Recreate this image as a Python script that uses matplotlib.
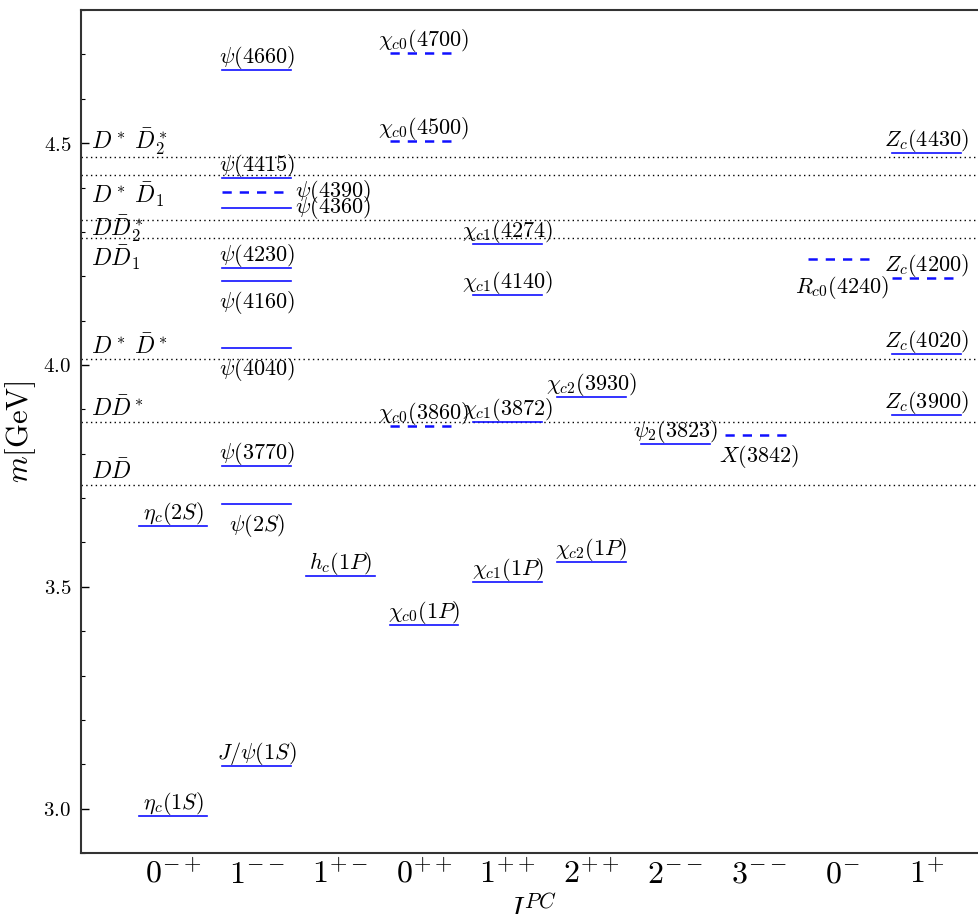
import matplotlib
matplotlib.use("Agg")
import matplotlib.pyplot as plt
from matplotlib.ticker import MultipleLocator

plt.rcParams['mathtext.fontset'] = 'cm'
plt.rcParams['font.family'] = 'serif'
plt.rcParams['font.serif'] = ['DejaVu Serif']

# J^PC columns
jpc = [r"$0^{-+}$", r"$1^{--}$", r"$1^{+-}$", r"$0^{++}$", r"$1^{++}$",
       r"$2^{++}$", r"$2^{--}$", r"$3^{--}$", r"$0^{-}$", r"$1^{+}$"]

# charmonium(-like) states: name, column, mass [GeV], predicted (dashed)
names = [r"$\eta_c(1S)$", r"$\eta_c(2S)$",
         r"$J/\psi(1S)$", r"$\psi(2S)$", r"$\psi(3770)$", r"$\psi(4040)$",
         r"$\psi(4160)$", r"$\psi(4230)$", r"$\psi(4360)$", r"$\psi(4390)$",
         r"$\psi(4415)$", r"$\psi(4660)$",
         r"$h_c(1P)$",
         r"$\chi_{c0}(1P)$", r"$\chi_{c0}(3860)$", r"$\chi_{c0}(4500)$", r"$\chi_{c0}(4700)$",
         r"$\chi_{c1}(1P)$", r"$\chi_{c1}(3872)$", r"$\chi_{c1}(4140)$", r"$\chi_{c1}(4274)$",
         r"$\chi_{c2}(1P)$", r"$\chi_{c2}(3930)$",
         r"$\psi_2(3823)$",
         r"$X(3842)$",
         r"$R_{c0}(4240)$",
         r"$Z_c(3900)$", r"$Z_c(4020)$", r"$Z_c(4200)$", r"$Z_c(4430)$"]
column = [0, 0,
          1, 1, 1, 1, 1, 1, 1, 1, 1, 1,
          2,
          3, 3, 3, 3,
          4, 4, 4, 4,
          5, 5,
          6,
          7,
          8,
          9, 9, 9, 9]
mass = [2.984, 3.638,
        3.097, 3.686, 3.773, 4.039, 4.190, 4.219, 4.354, 4.390, 4.421, 4.664,
        3.525,
        3.415, 3.862, 4.505, 4.703,
        3.511, 3.872, 4.158, 4.273,
        3.557, 3.927,
        3.823,
        3.842,
        4.239,
        3.888, 4.025, 4.196, 4.478]
predicted = [False, False,
             False, False, False, False, False, False, False, True, False, False,
             False,
             False, True, True, True,
             False, False, False, False,
             False, False,
             False,
             True,
             True,
             False, False, True, False]
label_side = ["above", "above",
              "above", "below", "above", "below", "below", "above", "right", "right",
              "above", "above",
              "above",
              "above", "above", "above", "above",
              "above", "above", "above", "above",
              "above", "above",
              "above",
              "below",
              "below_far",
              "above", "above", "above", "above"]

# open-charm thresholds
thr_names = [r"$D\bar{D}$", r"$D\bar{D}^*$", r"$D^*\;\bar{D}^*$", r"$D\bar{D}_1$",
             r"$D\bar{D}_2^*$", r"$D^*\;\bar{D}_1$", r"$D^*\;\bar{D}_2^*$"]
thr_mass = [3.730, 3.872, 4.014, 4.286, 4.326, 4.428, 4.468]
thr_label_dy = [6, 6, 5, -28, -16, -28, 8]   # baseline offset in pixels

half = 0.41
blue = '#1010ff'

fig = plt.figure(figsize=(9.79, 9.14), dpi=100)
ax = fig.add_axes([0.0827, 0.0667, 0.9173, 0.9223])

for i in range(len(names)):
    x, m = column[i], mass[i]
    if predicted[i]:
        ax.plot([x - half, x + half], [m, m], color=blue, lw=1.8,
                dashes=(3.7, 3.2), solid_capstyle='butt', dash_capstyle='butt')
    else:
        ax.plot([x - half, x + half], [m, m], color=blue, lw=1.2)

    side = label_side[i]
    if side == "above":
        ax.annotate(names[i], (x, m), xytext=(0, 7), textcoords='offset pixels',
                    ha='center', va='baseline', fontsize=16)
    elif side == "below":
        ax.annotate(names[i], (x, m), xytext=(0, -8), textcoords='offset pixels',
                    ha='center', va='top', fontsize=16)
    elif side == "below_far":
        ax.annotate(names[i], (x, m), xytext=(0, -15), textcoords='offset pixels',
                    ha='center', va='top', fontsize=16)
    else:
        ax.annotate(names[i], (x + half, m), xytext=(4, 0), textcoords='offset pixels',
                    ha='left', va='center', fontsize=16)

for name, m, dy in zip(thr_names, thr_mass, thr_label_dy):
    ax.axhline(m, color='black', lw=1.0, dashes=(1, 2.4), zorder=1)
    ax.annotate(name, (0, m), xycoords=ax.get_yaxis_transform(),
                xytext=(10, dy), textcoords='offset pixels',
                ha='left', va='baseline', fontsize=17)

ax.set_xlim(-1.1, 9.63)
ax.set_ylim(2.9, 4.8)

ax.set_xticks(range(len(jpc)))
ax.set_xticklabels(jpc, fontsize=23)
ax.tick_params(axis='x', length=0, pad=4)

yticks = [3.0, 3.5, 4.0, 4.5]
ax.set_yticks(yticks)
ax.set_yticklabels([f"${v:.1f}$" for v in yticks], fontsize=15)
ax.yaxis.set_minor_locator(MultipleLocator(0.1))
ax.tick_params(axis='y', which='major', direction='in', length=6, width=1, pad=7)
ax.tick_params(axis='y', which='minor', direction='in', length=3, width=0.8)
ax.tick_params(right=False, top=False)

for s in ['left', 'top', 'bottom']:
    ax.spines[s].set_color('#333333')
    ax.spines[s].set_linewidth(1.5)
ax.spines['right'].set_visible(False)

ax.set_ylabel(r"$m[\mathrm{GeV}]$", fontsize=22, labelpad=4)
ax.set_xlabel(r"$J^{PC}$", fontsize=22, labelpad=4)

fig.savefig("out.png", dpi=100)
